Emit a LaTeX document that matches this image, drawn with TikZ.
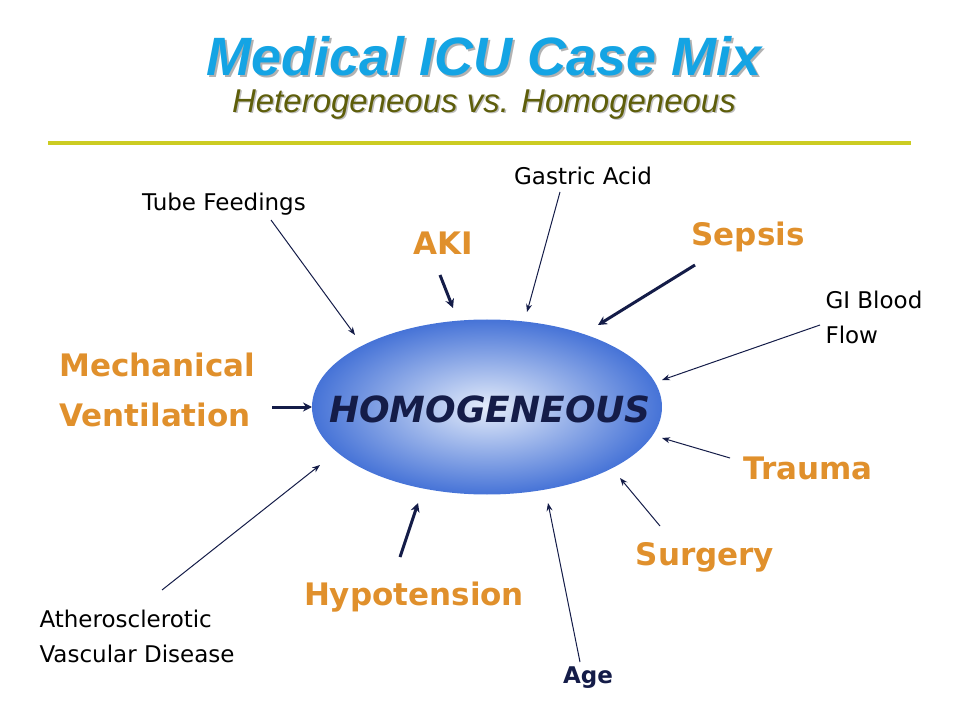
\documentclass[tikz,border=0pt]{standalone}
\usepackage{fontspec}
\setmainfont{DejaVu Sans}
\newfontfamily\titlefont{Liberation Sans}
\usetikzlibrary{arrows.meta,shapes.geometric}
\definecolor{navy}{HTML}{141C48}
\definecolor{orng}{HTML}{E0902C}
\definecolor{ttl}{HTML}{14A4E4}
\definecolor{olv}{HTML}{5E5E0A}
\definecolor{yl}{HTML}{CCCC22}
\definecolor{ein}{HTML}{E4ECFA}
\definecolor{eout}{HTML}{4673D7}
\begin{document}
\begin{tikzpicture}[x=1pt,y=-1pt,
  thin arr/.style={draw=navy,line width=1pt,-{Stealth[length=8pt,width=6pt]}},
  thick arr/.style={draw=navy,line width=3pt,-{Stealth[length=9pt,width=9pt]}},
  blk/.style={text=black,font=\fontsize{23}{35}\selectfont,align=left},
  org/.style={text=orng,font=\bfseries\fontsize{31}{50}\selectfont,align=left}]
\useasboundingbox (0,0) rectangle (959,719);
\node (t) at (484,57) {\titlefont\bfseries\itshape\fontsize{54}{56}\selectfont\rlap{\kern2pt\raisebox{-2pt}{\color{gray!60}Medical ICU Case Mix}}\color{ttl}Medical ICU Case Mix};
\node (s) at (484,105) {\titlefont\itshape\fontsize{33}{36}\selectfont\rlap{\kern1.5pt\raisebox{-1.5pt}{\color{gray!50}Heterogeneous vs. Homogeneous}}\color{olv}Heterogeneous vs. Homogeneous};
\coordinate (l1) at (48,143); \coordinate (l2) at (911,143);
\draw[yl,line width=3.5pt] (l1) -- (l2);
\node[ellipse,minimum width=350pt,minimum height=175pt,inner sep=0pt,
  shading=radial,inner color=ein,outer color=eout] (e) at (487,407) {};
\node[text=navy,font=\bfseries\itshape\fontsize{36}{40}\selectfont] (h) at (490,409) {HOMOGENEOUS};
\node[blk] (tf) at (224,204) {Tube Feedings};
\node[blk] (ga) at (583,176) {Gastric Acid};
\node[blk,anchor=west] (gi) at (822,317) {GI Blood\\Flow};
\node[blk,anchor=west] (av) at (36,636) {Atherosclerotic\\Vascular Disease};
\node[blk,font=\bfseries\fontsize{23}{25}\selectfont,text=navy] (age) at (588,678) {Age};
\node[org] (aki) at (443,243) {AKI};
\node[org] (sep) at (748,237) {Sepsis};
\node[org] (tr) at (808,468) {Trauma};
\node[org] (su) at (705,557) {Surgery};
\node[org] (hy) at (414,597) {Hypotension};
\node[org,anchor=west] (mv) at (56,390) {Mechanical\\Ventilation};
\coordinate (a1) at (271,220); \coordinate (b1) at (355,335);
\coordinate (a2) at (440,275); \coordinate (b2) at (453,308);
\coordinate (a3) at (560,192); \coordinate (b3) at (527,312);
\coordinate (a4) at (695,265); \coordinate (b4) at (598,325);
\coordinate (a5) at (820,325); \coordinate (b5) at (662,380);
\coordinate (a6) at (272,407); \coordinate (b6) at (312,407);
\coordinate (a7) at (730,458); \coordinate (b7) at (662,438);
\coordinate (a8) at (660,526); \coordinate (b8) at (620,478);
\coordinate (a9) at (580,662); \coordinate (b9) at (548,503);
\coordinate (a10) at (400,557); \coordinate (b10) at (418,503);
\coordinate (a11) at (162,590); \coordinate (b11) at (320,465);
\draw[thin arr] (a1) -- (b1);
\draw[thick arr] (a2) -- (b2);
\draw[thin arr] (a3) -- (b3);
\draw[thick arr] (a4) -- (b4);
\draw[thin arr] (a5) -- (b5);
\draw[thick arr] (a6) -- (b6);
\draw[thin arr] (a7) -- (b7);
\draw[thin arr] (a8) -- (b8);
\draw[thin arr] (a9) -- (b9);
\draw[thick arr] (a10) -- (b10);
\draw[thin arr] (a11) -- (b11);
\end{tikzpicture}
\end{document}
